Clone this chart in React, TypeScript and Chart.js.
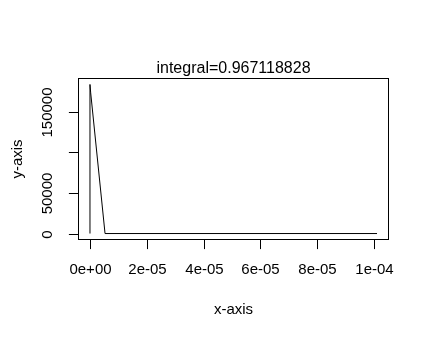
import React, { useEffect, useRef } from "react";
import { Chart, registerables } from "chart.js";

Chart.register(...registerables);

const xValues = [0, 0, 2.5e-7, 5.3e-6, 1.01e-4];
const yValues = [0, 183800, 173400, 0, 0];

const xTicks = [0, 2e-5, 4e-5, 6e-5, 8e-5, 1e-4];
const xTickLabels = ["0e+00", "2e-05", "4e-05", "6e-05", "8e-05", "1e-04"];
const yTicks = [0, 50000, 100000, 150000];
const yTickLabels = ["0", "50000", "", "150000"];

const titleText = "integral=0.967118828";
const xTitle = "x-axis";
const yTitle = "y-axis";

const FONT = "'Liberation Sans', Arial, sans-serif";

function padRange(vals: number[]) {
  const mn = Math.min(...vals);
  const mx = Math.max(...vals);
  const r = mx - mn;
  return { min: mn - 0.04 * r, max: mx + 0.04 * r };
}

export default function App() {
  const ref = useRef<HTMLCanvasElement | null>(null);

  useEffect(() => {
    const canvas = ref.current;
    if (!canvas) return;
    const xr = padRange(xValues);
    const yr = padRange(yValues);

    const rPlot = {
      id: "rplot",
      afterDraw(chart: any) {
        const ctx = chart.ctx as CanvasRenderingContext2D;
        const a = chart.chartArea;
        const xs = chart.scales.x;
        const ys = chart.scales.y;
        ctx.save();
        ctx.strokeStyle = "#000";
        ctx.fillStyle = "#000";
        ctx.lineWidth = 1;
        // box
        ctx.strokeRect(a.left, a.top, a.right - a.left, a.bottom - a.top);
        // x ticks
        ctx.font = `15px ${FONT}`;
        ctx.textAlign = "center";
        ctx.textBaseline = "alphabetic";
        xTicks.forEach((v, i) => {
          const px = Math.round(xs.getPixelForValue(v)) + 0.5;
          ctx.beginPath();
          ctx.moveTo(px, a.bottom);
          ctx.lineTo(px, a.bottom + 9.6);
          ctx.stroke();
          if (xTickLabels[i]) ctx.fillText(xTickLabels[i], px, 273.5);
        });
        // y ticks
        yTicks.forEach((v, i) => {
          const py = Math.round(ys.getPixelForValue(v)) + 0.5;
          ctx.beginPath();
          ctx.moveTo(a.left, py);
          ctx.lineTo(a.left - 9.6, py);
          ctx.stroke();
          if (yTickLabels[i]) {
            ctx.save();
            ctx.translate(52, py);
            ctx.rotate(-Math.PI / 2);
            ctx.fillText(yTickLabels[i], 0, 0);
            ctx.restore();
          }
        });
        // axis titles
        ctx.fillText(xTitle, (a.left + a.right) / 2, 313.5);
        ctx.save();
        ctx.translate(21.5, (a.top + a.bottom) / 2);
        ctx.rotate(-Math.PI / 2);
        ctx.fillText(yTitle, 0, 0);
        ctx.restore();
        // title
        ctx.font = `16px ${FONT}`;
        ctx.fillText(titleText, (a.left + a.right) / 2, 73);
        ctx.restore();
      },
    };

    const chart = new Chart(canvas, {
      type: "line",
      data: {
        datasets: [
          {
            data: xValues.map((x, i) => ({ x, y: yValues[i] })),
            borderColor: "#000",
            borderWidth: 1,
            pointRadius: 0,
            tension: 0,
            fill: false,
          },
        ],
      },
      options: {
        animation: false,
        responsive: false,
        devicePixelRatio: 1,
        parsing: true,
        layout: { padding: { left: 78.5, right: 40.5, top: 78.5, bottom: 97.5 } },
        plugins: { legend: { display: false }, tooltip: { enabled: false }, title: { display: false } },
        scales: {
          x: { type: "linear", min: xr.min, max: xr.max, display: false },
          y: { type: "linear", min: yr.min, max: yr.max, display: false },
        },
      },
      plugins: [rPlot],
    });
    return () => chart.destroy();
  }, []);

  return (
    <div style={{ position: "absolute", left: 0, top: 0, width: 429, height: 337, background: "#fff" }}>
      <canvas ref={ref} width={429} height={337} style={{ display: "block" }} />
    </div>
  );
}
